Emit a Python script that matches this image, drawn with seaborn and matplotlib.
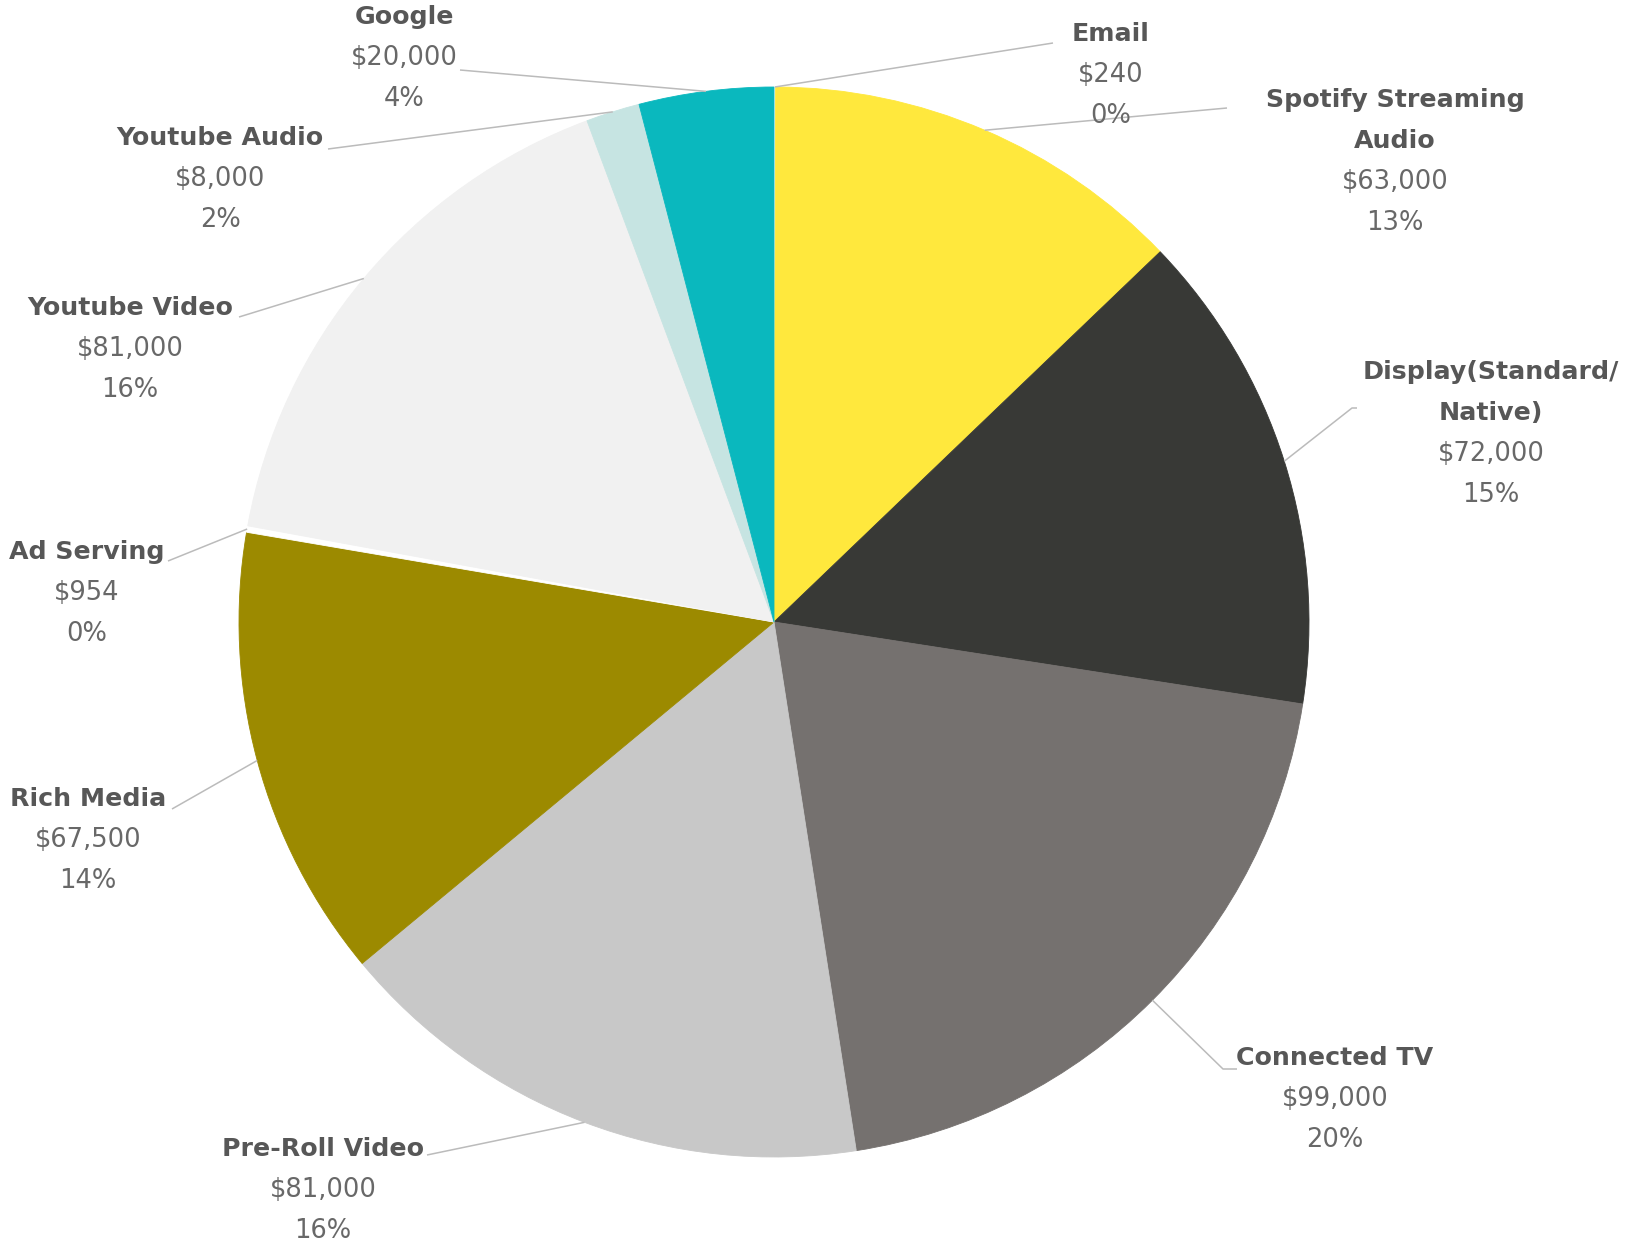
import numpy as np
import matplotlib
matplotlib.use("Agg")
import matplotlib.pyplot as plt
import seaborn as sns

# chart data
categories = ["Email", "Spotify Streaming\nAudio", "Display(Standard/\nNative)", "Connected TV",
              "Pre-Roll Video", "Rich Media", "Ad Serving", "Youtube Video", "Youtube Audio", "Google"]
spend = [240, 63000, 72000, 99000, 81000, 67500, 954, 81000, 8000, 20000]
colors = ["#FFFFFF", "#FFE83D", "#383936", "#75716F", "#C8C8C8",
          "#9C8A00", "#FFFFFF", "#F1F1F1", "#C6E4E2", "#0AB8BE"]

# layout (pixel coords of the 1632x1245 canvas, y measured from top)
W, H = 1632, 1245
CENTER = (774, 622)
RADIUS = 535
label_pos = [(1111, 34), (1395, 100), (1491, 372), (1335, 1058), (323, 1149),
             (88, 799), (87, 552), (130, 308), (220, 138), (404, 17)]
leader_end = [[(1053, 43)], [(1227, 108)], [(1352, 408), (1357, 408)],
              [(1223, 1069), (1237, 1069)], [(427, 1155)], [(172, 809)],
              [(168, 561)], [(239, 317)], [(328, 149)], [(460, 70)]]
LINE_H = 41


def fy(y):
    return H - y


sns.set_theme(style="white")
plt.rcParams['font.family'] = ['DejaVu Sans']

fig = plt.figure(figsize=(W / 100, H / 100), dpi=100)
ax = fig.add_axes([0, 0, 1, 1])

wedges, _ = ax.pie(spend, colors=colors, startangle=90, counterclock=False,
                   radius=RADIUS, center=(CENTER[0], fy(CENTER[1])),
                   wedgeprops=dict(linewidth=0.6))
for w, c in zip(wedges, colors):
    w.set_edgecolor(c)

ax.set_xlim(0, W)
ax.set_ylim(0, H)
ax.set_aspect("equal")
ax.axis("off")

total = sum(spend)
cum = np.cumsum([0] + spend[:-1])
for i, (name, v) in enumerate(zip(categories, spend)):
    # leader line from the wedge middle on the rim to the label
    theta = np.deg2rad(90 - 360 * (cum[i] + v / 2) / total)
    px = CENTER[0] + RADIUS * np.cos(theta)
    py = fy(CENTER[1]) + RADIUS * np.sin(theta)
    xs = [px] + [p[0] for p in leader_end[i]]
    ys = [py] + [fy(p[1]) for p in leader_end[i]]
    ax.plot(xs, ys, color="#BBBBBB", lw=1.1, solid_capstyle="butt", zorder=3)

    cx, y0 = label_pos[i]
    lines = name.split("\n")
    for k, ln in enumerate(lines):
        ax.text(cx, fy(y0 + k * LINE_H), ln, ha="center", va="center",
                fontsize=18.2, fontweight="bold", color="#575757", zorder=4)
    y = y0 + len(lines) * LINE_H
    ax.text(cx, fy(y), f"${v:,}", ha="center", va="center",
            fontsize=18.5, color="#686868", zorder=4)
    ax.text(cx, fy(y + LINE_H), f"{round(v / total * 100)}%", ha="center", va="center",
            fontsize=18.5, color="#686868", zorder=4)

fig.savefig("out.png", dpi=100, facecolor="white")
plt.close(fig)
